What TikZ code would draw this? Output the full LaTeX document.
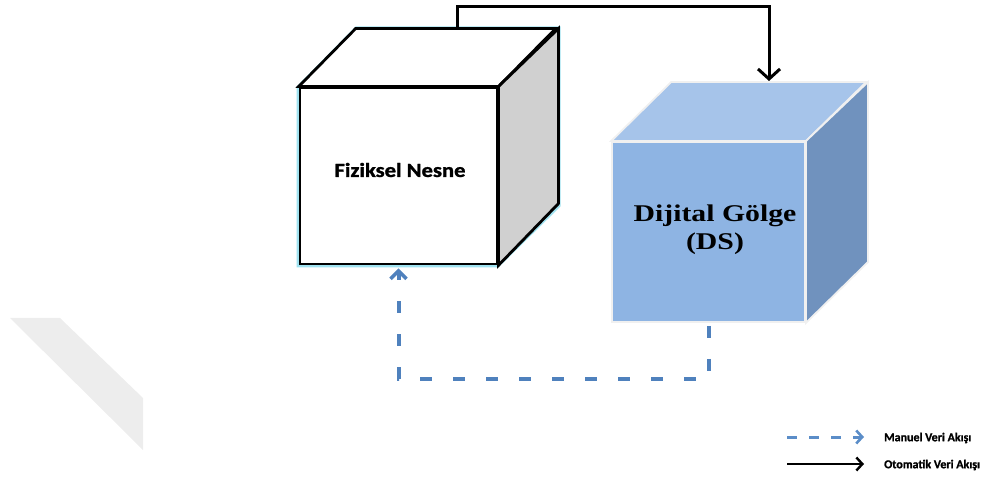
\documentclass[tikz,border=0pt]{standalone}
\usepackage{fontspec}
\setmainfont{Liberation Serif}
\newfontfamily\labelfont[BoldFeatures={FakeBold=1.3}]{Carlito}
\usetikzlibrary{arrows.meta,calc}
\definecolor{dsfront}{RGB}{142,180,227}
\definecolor{dstop}{RGB}{166,196,234}
\definecolor{dsside}{RGB}{112,146,190}
\definecolor{fnside}{RGB}{208,208,208}
\definecolor{glow}{RGB}{160,226,240}
\definecolor{manual}{RGB}{79,129,189}
\definecolor{manuallegend}{RGB}{91,141,200}
\definecolor{band}{RGB}{237,237,237}
\tikzset{
  face/.style={line join=miter},
  physface/.style={face, draw=black, line width=2.8pt},
  physglow/.style={draw=glow, line width=7pt, line join=miter},
  shadowface/.style={face, draw=white!88!gray, line width=1.8pt},
  autoflow/.style={draw=black, line width=3pt, -{Straight Barb[length=10pt,width=22pt,line width=3pt]}},
  manualflow/.style={draw=manual, line width=4pt, dash pattern=on 12pt off 21pt,
                     -{Straight Barb[length=8pt,width=16pt,line width=3.5pt]}},
  legendtext/.style={anchor=west, font=\labelfont\bfseries\fontsize{12}{14}\selectfont, inner sep=0pt}
}
\begin{document}
\begin{tikzpicture}[x=1pt,y=-1pt]
  \useasboundingbox (0,0) rectangle (1005,481);

  % faint diagonal band on the left
  \fill[band] (10,318) -- (60,318) -- (143,398) -- (143,450) -- cycle;

  % ---- Fiziksel Nesne cube ----
  \path[physglow] (300,88) -- (357,30) -- (557,30) -- (557,205) -- (497,264) -- (300,264) -- cycle;
  \node[physface, fill=white, minimum width=197pt, minimum height=176pt, inner sep=0pt]
       (fn) at (398.5,176) {};
  \filldraw[physface, fill=white] (fn.north west) -- ++(57,-58) -- ++(200,0) -- (fn.north east) -- cycle;
  \filldraw[physface, fill=fnside] (fn.north east) -- ++(60,-58) -- ++(0,175) -- (fn.south east) -- cycle;
  \node[font=\labelfont\bfseries\fontsize{20}{24}\selectfont] (fntext) at (400,170)
       {\scalebox{1.13}[1]{Fiziksel Nesne}};
  \coordinate (fnout) at (457,30);

  % ---- Dijital Gölge cube ----
  \node[shadowface, fill=dsfront, minimum width=193pt, minimum height=180pt, inner sep=0pt]
       (ds) at (708.5,232) {};
  \filldraw[shadowface, fill=dstop] (ds.north west) -- ++(60,-59) -- ++(195,0) -- (ds.north east) -- cycle;
  \filldraw[shadowface, fill=dsside] (ds.north east) -- ++(62,-59) -- ++(0,180) -- (ds.south east) -- cycle;
  \node[align=center, font=\bfseries\fontsize{24}{28}\selectfont] (dstext) at (715,230)
       {\scalebox{1.24}[1]{Dijital Gölge}\\\scalebox{1.24}[1]{(DS)}};
  \coordinate (dsin) at (769,81);

  % ---- flows ----
  \draw[autoflow] (fnout) -- ++(0,-23) -| (dsin);
  \draw[manualflow] ($(ds.south)+(0,3)$) -- ++(0,53) -| ($(fn.south)+(0,3)$);

  % ---- legend ----
  \coordinate (lm1) at (787,437);
  \coordinate (lm2) at (864,437);
  \coordinate (lo1) at (787,464);
  \coordinate (lo2) at (864,464);
  \draw[draw=manuallegend, line width=3pt, dash pattern=on 10pt off 12pt,
        -{Straight Barb[length=6pt,width=13pt,line width=2.6pt]}] (lm1) -- (lm2);
  \draw[draw=black, line width=2pt,
        -{Straight Barb[length=6pt,width=13pt,line width=2.4pt]}] (lo1) -- (lo2);
  \node[legendtext] (lmtext) at (884,438) {Manuel Veri Akışı};
  \node[legendtext] (lotext) at (884,465) {Otomatik Veri Akışı};
\end{tikzpicture}
\end{document}
